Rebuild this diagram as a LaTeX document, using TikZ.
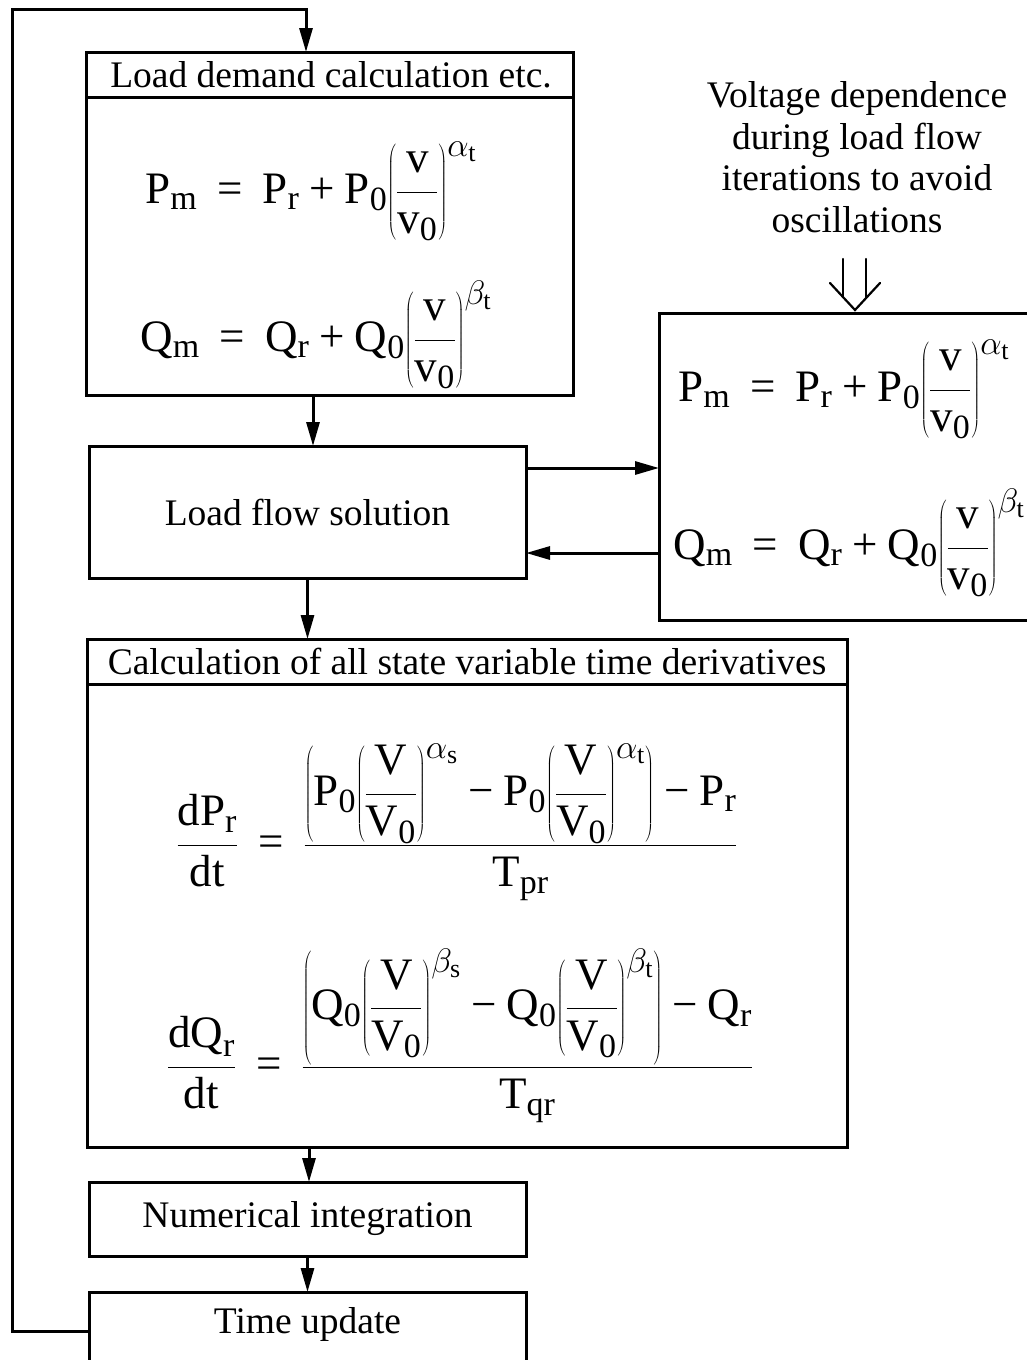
\RequirePackage{fix-cm}
\documentclass[tikz,border=0pt]{standalone}
\usepackage{fontspec}
\setmainfont{Liberation Serif}
\usetikzlibrary{arrows.meta}
\DeclareMathSizes{45}{45}{34}{26}
\newcommand{\rmm}[1]{\mathrm{#1}}
\newcommand{\EQ}{\,\mathrel{\hbox{=}}\,}
\newcommand{\PL}{\mathbin{\hbox{+}}}
\newcommand{\MI}{\mathbin{\hbox{\char"2212}}}
\newcommand{\fracV}[1]{{\left({\displaystyle\frac{\rmm{#1}}{\rmm{#1}_{\rmm{0}}}}\right)}}
\begin{document}
\begin{tikzpicture}[x=1pt,y=-1pt,
  box/.style={draw, line width=3pt, rectangle, inner sep=0pt, outer sep=0pt},
  lbl/.style={font=\fontsize{37.5}{41.5}\selectfont, inner sep=0pt},
  eqn/.style={font=\fontsize{45}{50}\selectfont, inner sep=0pt, anchor=base},
  arr/.style={-{Triangle[length=24pt,width=13pt]}, line width=3pt},
  ln/.style={line width=3pt},
  openarr/.style={line width=2.2pt, line cap=round, line join=miter},
]
\useasboundingbox (0,0) rectangle (1026,1360);

% boxes
\node[box, minimum width=487pt, minimum height=343pt] (b1) at (329.5,223.5) {};
\node[box, minimum width=437pt, minimum height=132pt, lbl] (b2) at (307.5,512) {Load flow solution};
\node[box, minimum width=371pt, minimum height=307pt] (R) at (844.5,466.5) {};
\node[box, minimum width=760pt, minimum height=508pt] (b3) at (467,893) {};
\node[box, minimum width=437pt, minimum height=74pt, lbl] (b4) at (307.5,1219) {Numerical integration};
\node[box, minimum width=437pt, minimum height=100pt] (b5) at (307.5,1342) {};
\node[lbl] (t5) at (307.5,1324) {Time update};

% title bars
\node[lbl] (t1) at (331,74.5) {Load demand calculation etc.};
\draw[ln] ([yshift=-45pt]b1.north west) -- ([yshift=-45pt]b1.north east);
\node[lbl] (t3) at (467,661.5) {Calculation of all state variable time derivatives};
\draw[ln] ([yshift=-45pt]b3.north west) -- ([yshift=-45pt]b3.north east);

% equations box 1
\node[eqn] (e1) at (311,203) {$\displaystyle \rmm{P}_{\rmm{m}} \EQ \rmm{P}_{\rmm{r}} \PL \rmm{P}_{\rmm{0}}\fracV{v}^{\alpha_{\rmm{t}}}$};
\node[eqn] (e2) at (316,351) {$\displaystyle \rmm{Q}_{\rmm{m}} \EQ \rmm{Q}_{\rmm{r}} \PL \rmm{Q}_{\rmm{0}}\fracV{v}^{\beta_{\rmm{t}}}$};

% equations right box
\node[eqn] (e3) at (844,401) {$\displaystyle \rmm{P}_{\rmm{m}} \EQ \rmm{P}_{\rmm{r}} \PL \rmm{P}_{\rmm{0}}\fracV{v}^{\alpha_{\rmm{t}}}$};
\node[eqn] (e4) at (849,559) {$\displaystyle \rmm{Q}_{\rmm{m}} \EQ \rmm{Q}_{\rmm{r}} \PL \rmm{Q}_{\rmm{0}}\fracV{v}^{\beta_{\rmm{t}}}$};

% equations box 3
\node[eqn] (e5) at (457,856) {$\displaystyle \frac{\rmm{dP}_{\rmm{r}}}{\rmm{dt}} \EQ \frac{{\left(\rmm{P}_{\rmm{0}}\fracV{V}^{\alpha_{\rmm{s}}} \MI \rmm{P}_{\rmm{0}}\fracV{V}^{\alpha_{\rmm{t}}}\right)} \MI \rmm{P}_{\rmm{r}}}{\rmm{T}_{\rmm{pr}}}$};
\node[eqn] (e6) at (460,1078) {$\displaystyle \frac{\rmm{dQ}_{\rmm{r}}}{\rmm{dt}} \EQ \frac{{\left(\rmm{Q}_{\rmm{0}}\fracV{V}^{\beta_{\rmm{s}}} \MI \rmm{Q}_{\rmm{0}}\fracV{V}^{\beta_{\rmm{t}}}\right)} \MI \rmm{Q}_{\rmm{r}}}{\rmm{T}_{\rmm{qr}}}$};

% side text
\node[lbl, align=center] (vt) at (857,157) {Voltage dependence\\during load flow\\iterations to avoid\\oscillations};

% open double arrow
\coordinate (vtip) at (855,310);
\draw[openarr] (843,259) -- (843,297);
\draw[openarr] (866,259) -- (866,298);
\draw[openarr] (830,283) -- (vtip) -- (880,283);

% connectors
\coordinate (c1) at (12,9);
\coordinate (c2) at (12,1331);
\draw[arr] (c2 -| b5.west) -- (c2) -- (c1) -- (c1 -| 306,0) -- ([xshift=-23.5pt]b1.north);
\draw[arr] ([xshift=-16.5pt]b1.south) -- ([xshift=5.5pt]b2.north);
\draw[arr] (b2.south) -- (b2.south |- b3.north);
\draw[arr] ([xshift=-158pt]b3.south) -- ([xshift=-158pt]b3.south |- b4.north);
\draw[arr] (b4.south) -- (b4.south |- b5.north);
\coordinate (a1) at ([yshift=-22pt]b2.north east);
\coordinate (a2) at ([yshift=25pt]b2.south east);
\draw[arr] (a1) -- (a1 -| R.west);
\draw[arr] (a2 -| R.west) -- (a2);
\end{tikzpicture}
\end{document}
